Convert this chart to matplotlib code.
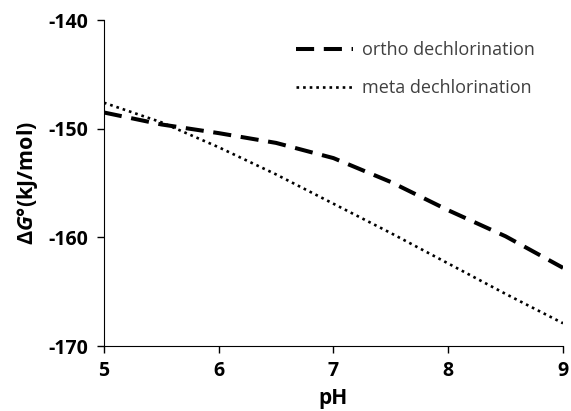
import matplotlib
matplotlib.use("Agg")
import matplotlib.pyplot as plt

plt.rcParams['font.family'] = ['Open Sans', 'DejaVu Sans']
plt.rcParams['axes.unicode_minus'] = False
plt.rcParams['mathtext.fontset'] = 'custom'
plt.rcParams['mathtext.it'] = 'Open Sans:bold:italic'
plt.rcParams['mathtext.rm'] = 'Open Sans:bold'

# valeurs
ph = [5, 5.5, 6, 6.5, 7, 7.5, 8, 8.5, 9]
ortho = [-148.5, -149.6, -150.4, -151.3, -152.7, -154.9, -157.5, -159.9, -162.8]
meta = [-147.6, -149.4, -151.7, -154.2, -156.9, -159.6, -162.4, -165.2, -167.9]

fig = plt.figure(figsize=(5.71, 4.11), dpi=100)
ax = fig.add_axes([0.182, 0.158, 0.804, 0.793])

ax.plot(ph, ortho, color="black", lw=2.9, dashes=(4.5, 2.4), label="ortho dechlorination")
ax.plot(ph, meta, color="black", lw=1.9, dashes=(1, 1.5), label="meta dechlorination")

ax.set_xlim(5, 9)
ax.set_ylim(-170, -140)
ax.set_xticks([5, 6, 7, 8, 9])
ax.set_yticks([-170, -160, -150, -140])
ax.spines['top'].set_visible(False)
ax.spines['right'].set_visible(False)
ax.tick_params(direction='out', length=5, width=1, labelsize=14, pad=6)
for lab in ax.get_xticklabels() + ax.get_yticklabels():
    lab.set_fontweight('bold')
ax.set_xlabel("pH", fontsize=15, fontweight='bold', labelpad=5)
ax.set_ylabel("Δ$G$°(kJ/mol)", fontsize=15.5, fontweight='bold', labelpad=6)

leg = ax.legend(loc="upper right", frameon=False, fontsize=13, handlelength=3.2,
                labelspacing=1.1, handletextpad=0.5, bbox_to_anchor=(0.975, 0.985))
for t in leg.get_texts():
    t.set_color("#404040")

fig.savefig("out.png", dpi=100)
